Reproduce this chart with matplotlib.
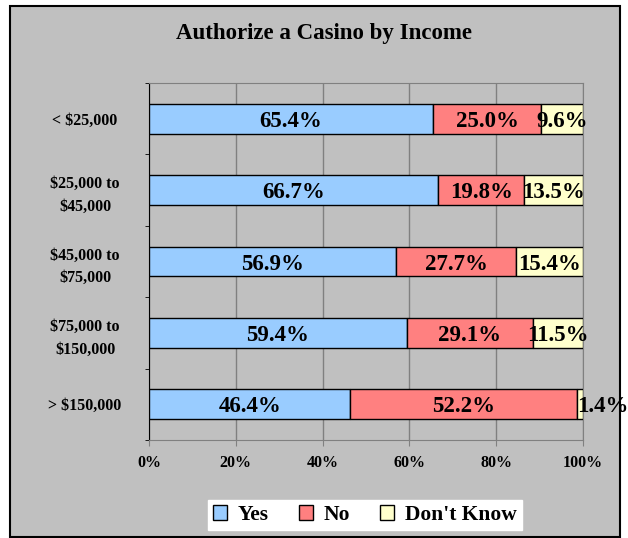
# Authorize a Casino by Income - stacked horizontal bars
import matplotlib
matplotlib.use("Agg")
from matplotlib import pyplot as plt
from matplotlib.patches import Rectangle

plt.rcParams['font.family'] = ['Liberation Serif', 'DejaVu Serif']
plt.rcParams['font.weight'] = 'bold'

# data
categories = ["< $25,000", "$25,000 to\n$45,000", "$45,000 to\n$75,000",
              "$75,000 to\n$150,000", "> $150,000"]
yes = [65.4, 66.7, 56.9, 59.4, 46.4]
no = [25.0, 19.8, 27.7, 29.1, 52.2]
dont_know = [9.6, 13.5, 15.4, 11.5, 1.4]
series_names = ["Yes", "No", "Don't Know"]
colors = ["#99CCFF", "#FF8080", "#FFFFCC"]
x_ticks = [0, 20, 40, 60, 80, 100]
x_labels = ["{}%".format(v) for v in x_ticks]

fig = plt.figure(figsize=(6.28, 5.38), dpi=100)
fig.patch.set_facecolor("white")
# grey chart area with a black border (drawn under the axes)
fig.patches.append(Rectangle((10 / 628, 1 / 538), 610 / 628, 531 / 538,
                             transform=fig.transFigure, facecolor="#C0C0C0",
                             edgecolor="black", linewidth=1.5, zorder=-1))

ax = fig.add_axes([149 / 628, 98 / 538, 434 / 628, 357 / 538])
ax.set_zorder(1)
ax.set_facecolor("#C0C0C0")

ypos = list(range(len(categories)))
left = [0] * len(categories)
for name, vals, col in zip(series_names, [yes, no, dont_know], colors):
    bars = ax.barh(ypos, vals, left=left, height=0.42, color=col,
                   edgecolor="black", linewidth=1, label=name, zorder=3)
    for i, v in enumerate(vals):
        if v < 5:
            # too small to hold the label: start it at the segment
            ax.text(left[i], ypos[i], "{:.1f}%".format(v), ha="left",
                    va="center_baseline", fontsize=16.5, fontweight="bold",
                    zorder=4, clip_on=False)
        else:
            ax.text(left[i] + v / 2, ypos[i], "{:.1f}%".format(v),
                    ha="center", va="center_baseline", fontsize=16.5,
                    fontweight="bold", zorder=4, clip_on=False)
    left = [a + b for a, b in zip(left, vals)]

ax.set_xlim(0, 100)
ax.set_ylim(len(categories) - 0.5, -0.5)

# x axis
ax.set_xticks(x_ticks)
ax.set_xticklabels(x_labels, fontsize=11.5, fontweight="bold")
ax.tick_params(axis="x", direction="out", length=4, color="#808080", pad=7)
ax.grid(axis="x", color="#808080", linewidth=1, zorder=1)
ax.set_axisbelow(True)

# y axis: labels at centers, small ticks between categories
ax.set_yticks(ypos)
ax.set_yticklabels(categories, fontsize=11.5, fontweight="bold",
                   ha="center", linespacing=1.55)
ax.tick_params(axis="y", which="major", length=0, pad=46)
ax.set_yticks([i - 0.5 for i in range(len(categories) + 1)], minor=True)
ax.tick_params(axis="y", which="minor", direction="out", length=3,
               color="black")

for side in ["top", "right", "bottom"]:
    ax.spines[side].set_color("#808080")
ax.spines["left"].set_color("black")

fig.text(324 / 628, 1 - 33 / 538, "Authorize a Casino by Income",
         ha="center", va="center", fontsize=16.5, fontweight="bold")

leg = fig.legend(loc="center", bbox_to_anchor=(365 / 628, 1 - 515 / 538),
                 ncol=3, fontsize=15.5, frameon=True, fancybox=False,
                 framealpha=1, handlelength=0.65, handleheight=0.65,
                 handletextpad=0.5, columnspacing=1.4, borderpad=0.25)
leg.get_frame().set_facecolor("white")
leg.get_frame().set_edgecolor("white")
leg.set_zorder(5)
for t in leg.get_texts():
    t.set_fontweight("bold")

plt.savefig("out.png", dpi=100)
